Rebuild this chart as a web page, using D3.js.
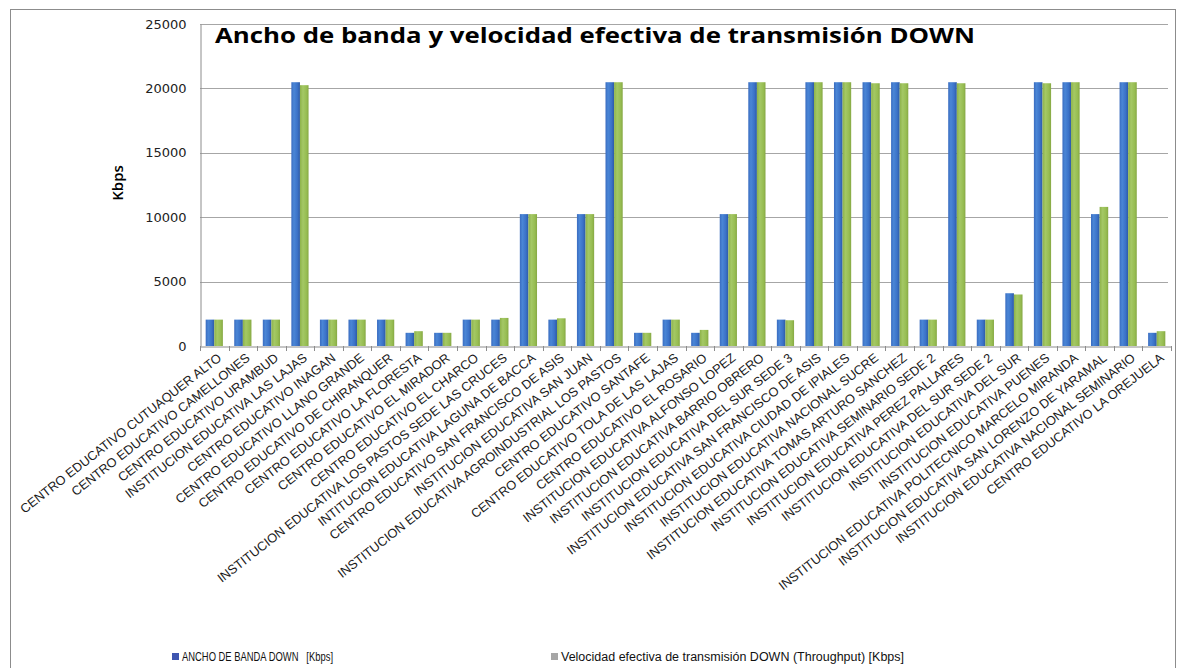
<!DOCTYPE html>
<html><head><meta charset="utf-8">
<script src="https://cdn.jsdelivr.net/npm/d3@7"></script>
<style>body{margin:0;background:#fff}svg{display:block}</style>
</head><body><svg id="c" width="1179" height="668"></svg>
<script>
const categories = [
"CENTRO EDUCATIVO CUTUAQUER ALTO","CENTRO EDUCATIVO CAMELLONES","CENTRO EDUCATIVO URAMBUD",
"INSTITUCION EDUCATIVA LAS LAJAS","CENTRO EDUCATIVO INAGAN","CENTRO EDUCATIVO LLANO GRANDE",
"CENTRO EDUCATIVO DE CHIRANQUER","CENTRO EDUCATIVO LA FLORESTA","CENTRO EDUCATIVO EL MIRADOR",
"CENTRO EDUCATIVO EL CHARCO","INSTITUCION EDUCATIVA LOS PASTOS SEDE LAS CRUCES",
"INTITUCION EDUCATIVA LAGUNA DE BACCA","CENTRO EDUCATIVO SAN FRANCISCO DE ASIS",
"INSTITUCION EDUCATIVA SAN JUAN","INSTITUCION EDUCATIVA AGROINDUSTRIAL LOS PASTOS",
"CENTRO EDUCATIVO SANTAFE","CENTRO EDUCATIVO TOLA DE LAS LAJAS","CENTRO EDUCATIVO EL ROSARIO",
"INSTITUCION EDUCATIVA ALFONSO LOPEZ","INSTITUCION EDUCATIVA BARRIO OBRERO",
"INSTITUCION EDUCATIVA DEL SUR SEDE 3","INSTITUCION EDUCATIVA SAN FRANCISCO DE ASIS",
"INSTITUCION EDUCATIVA CIUDAD DE IPIALES","INSTITUCION EDUCATIVA NACIONAL SUCRE",
"INSTITUCION EDUCATIVA TOMAS ARTURO SANCHEZ","INSTITUCION EDUCATIVA SEMINARIO SEDE 2",
"INSTITUCION EDUCATIVA PEREZ PALLARES","INSTITUCION EDUCATIVA DEL SUR SEDE 2",
"INSTITUCION EDUCATIVA DEL SUR","INSTITUCION EDUCATIVA PUENES",
"INSTITUCION EDUCATIVA POLITECNICO MARCELO MIRANDA","INSTITUCION EDUCATIVA SAN LORENZO DE YARAMAL",
"INSTITUCION EDUCATIVA NACIONAL SEMINARIO","CENTRO EDUCATIVO LA OREJUELA"];
const anchoBanda = [2048,2048,2048,20480,2048,2048,2048,1024,1024,2048,2048,10240,2048,10240,20480,1024,2048,1024,10240,20480,2048,20480,20480,20480,20480,2048,20480,2048,4096,20480,20480,10240,20480,1024];
const throughput = [2048,2048,2048,20250,2048,2048,2048,1150,1024,2048,2180,10240,2150,10240,20480,1024,2048,1250,10240,20480,2000,20480,20480,20400,20400,2048,20400,2048,4000,20400,20480,10800,20480,1150];
const yTicks = [0,5000,10000,15000,20000,25000];
const seriesNames = ["ANCHO DE BANDA DOWN   [Kbps]","Velocidad efectiva de transmisión DOWN (Throughput) [Kbps]"];
const title = "Ancho de banda y velocidad efectiva de transmisión DOWN";
const yTitle = "Kbps";

const svg = d3.select("#c");
const defs = svg.append("defs");
function grad(id, stops){
  const g = defs.append("linearGradient").attr("id",id).attr("x1","0").attr("x2","1").attr("y1","0").attr("y2","0");
  stops.forEach(s=>g.append("stop").attr("offset",s[0]).attr("stop-color",s[1]));
}
grad("gBlue",[[0,"#3a6cc0"],[0.3,"#4a86d6"],[0.7,"#3b72c8"],[1,"#2d5aa6"]]);
grad("gGreen",[[0,"#8db24a"],[0.35,"#a4c865"],[0.75,"#97bd52"],[1,"#86a844"]]);

// frame
svg.append("rect").attr("x",10.5).attr("y",9.5).attr("width",1165).attr("height",680)
  .attr("fill","none").attr("stroke","#8c8c8c").attr("stroke-width",1);

const L=200, R=1171, T=24, B=346;
const y = d3.scaleLinear().domain([0,25000]).range([B,T]);
const x0 = d3.scaleBand().domain(categories).range([L,R]).padding(0);
const keys=["a","t"];
const x1 = d3.scaleBand().domain(keys).range([0,x0.bandwidth()]).paddingInner(0).paddingOuter(0.66);

// gridlines
svg.append("g").selectAll("line").data(yTicks.filter(d=>d>0)).join("line")
  .attr("x1",L).attr("x2",1168).attr("y1",d=>Math.round(y(d))+0.5).attr("y2",d=>Math.round(y(d))+0.5)
  .attr("stroke","#a6a6a6").attr("stroke-width",1);

// y axis
const yAxis = d3.axisLeft(y).tickValues(yTicks).tickSize(0).tickPadding(14).tickFormat(d3.format("d"));
const ga = svg.append("g").attr("transform",`translate(${L+0.5},0)`).call(yAxis);
ga.select(".domain").attr("stroke","#8c8c8c");
ga.selectAll("text").attr("font-family","DejaVu Sans").attr("font-size",13).attr("fill","#222");

// bars
const data = categories.map((c,i)=>({c, a:anchoBanda[i], t:throughput[i]}));
const grp = svg.append("g").selectAll("g").data(data).join("g").attr("transform",d=>`translate(${x0(d.c)},0)`);
grp.selectAll("rect").data(d=>keys.map(k=>({k,v:d[k]}))).join("rect")
  .attr("x",d=>x1(d.k)).attr("width",x1.bandwidth())
  .attr("y",d=>y(d.v)).attr("height",d=>B-y(d.v))
  .attr("fill",d=>d.k==="a"?"url(#gBlue)":"url(#gGreen)");

// x axis
const xAxis = d3.axisBottom(x0).tickSize(0).tickFormat(d=>d);
const gx = svg.append("g").attr("transform",`translate(0,${B+0.5})`).call(xAxis);
gx.select(".domain").attr("stroke","#8c8c8c");
gx.selectAll(".tick text").attr("font-family","Liberation Sans").attr("font-size",12.8).attr("fill","#1a1a1a")
  .attr("text-anchor","end").attr("dy",null).attr("y",0)
  .attr("transform","translate(8,13) rotate(-38)");
// boundary tick marks
svg.append("g").selectAll("line").data(d3.range(categories.length+1)).join("line")
  .attr("x1",i=>Math.round(L+i*x0.step())+0.5).attr("x2",i=>Math.round(L+i*x0.step())+0.5)
  .attr("y1",B).attr("y2",B+5).attr("stroke","#8c8c8c");

// title
svg.append("text").attr("x",215).attr("y",43).text(title)
  .attr("font-family","Open Sans").attr("font-weight","bold").attr("font-size",22)
  .attr("textLength",760).attr("lengthAdjust","spacingAndGlyphs").attr("fill","#000");

// y title
svg.append("text").attr("transform","translate(123,183) rotate(-90)").attr("text-anchor","middle")
  .text(yTitle).attr("font-family","Open Sans").attr("font-weight",600).attr("font-size",15).attr("fill","#000");

// legend
const leg = [{x:172,col:"#3f56b0",name:seriesNames[0],w:151},{x:551,col:"#a6a6a6",name:seriesNames[1],w:343}];
leg.forEach(l=>{
  svg.append("rect").attr("x",l.x).attr("y",653).attr("width",7).attr("height",7).attr("fill",l.col);
  svg.append("text").attr("x",l.x+10).attr("y",661).text(l.name)
    .attr("font-family","Liberation Sans Narrow, Liberation Sans").attr("font-size",12.5).attr("fill","#111")
    .attr("textLength",l.w).attr("lengthAdjust","spacingAndGlyphs").attr("xml:space","preserve");
});
</script></body></html>
